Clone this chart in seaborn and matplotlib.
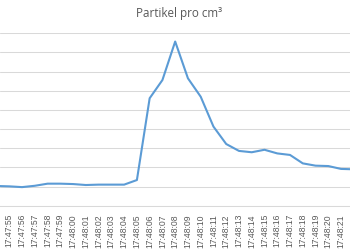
import matplotlib
matplotlib.use("Agg")
import matplotlib.pyplot as plt
import seaborn as sns
import pandas as pd

times = ["17:47:54", "17:47:55", "17:47:56", "17:47:57", "17:47:58", "17:47:59",
         "17:48:00", "17:48:01", "17:48:02", "17:48:03", "17:48:04", "17:48:05",
         "17:48:06", "17:48:07", "17:48:08", "17:48:09", "17:48:10", "17:48:11",
         "17:48:12", "17:48:13", "17:48:14", "17:48:15", "17:48:16", "17:48:17",
         "17:48:18", "17:48:19", "17:48:20", "17:48:21", "17:48:22"]
partikel = [1030, 1010, 970, 1040, 1150, 1150,
            1130, 1080, 1100, 1100, 1100, 1340,
            5610, 6560, 8570, 6650, 5690, 4130,
            3220, 2860, 2790, 2920, 2730, 2650,
            2210, 2090, 2070, 1920, 1900]
grid_values = [0, 1000, 2000, 3000, 4000, 5000, 6000, 7000, 8000, 9000]
title = "Partikel pro cm³"

df = pd.DataFrame({"pos": range(len(times)), "zeit": times, "wert": partikel})

sns.set_theme(style="white")
plt.rcParams["font.family"] = ["Liberation Sans", "DejaVu Sans"]

fig = plt.figure(figsize=(3.5, 2.5), dpi=100)
ax = fig.add_axes([0, 1 - 205.7 / 250, 1, (205.7 - 33.3) / 250])

sns.lineplot(data=df, x="pos", y="wert", ax=ax, color="#5B9BD5",
             linewidth=1.5, sort=False)

ax.set_ylim(grid_values[0], grid_values[-1])
ax.set_yticks(grid_values)
ax.yaxis.grid(True, color="#D9D9D9", linewidth=0.75)
ax.set_axisbelow(True)
xmin, xmax = 3.46 / 12.76, 353.46 / 12.76
ax.set_xlim(xmin, xmax)
visible = df[(df["pos"] >= xmin) & (df["pos"] <= xmax)]
ax.set_xticks(visible["pos"])
ax.set_xticklabels(visible["zeit"], rotation=90, fontsize=6.2, color="#595959")
ax.tick_params(axis="x", length=0, pad=6)
ax.tick_params(axis="y", length=0, labelleft=False)
ax.set_xlabel("")
ax.set_ylabel("")
for s in ["top", "left", "right"]:
    ax.spines[s].set_visible(False)
ax.spines["bottom"].set_color("#D9D9D9")
ax.spines["bottom"].set_linewidth(0.75)

fig.text(179.5 / 350, 1 - 14 / 250, title, ha="center", va="center",
         fontsize=8.4, color="#595959", family=["Open Sans", "DejaVu Sans"])

fig.savefig("out.png", dpi=100, facecolor="white")
